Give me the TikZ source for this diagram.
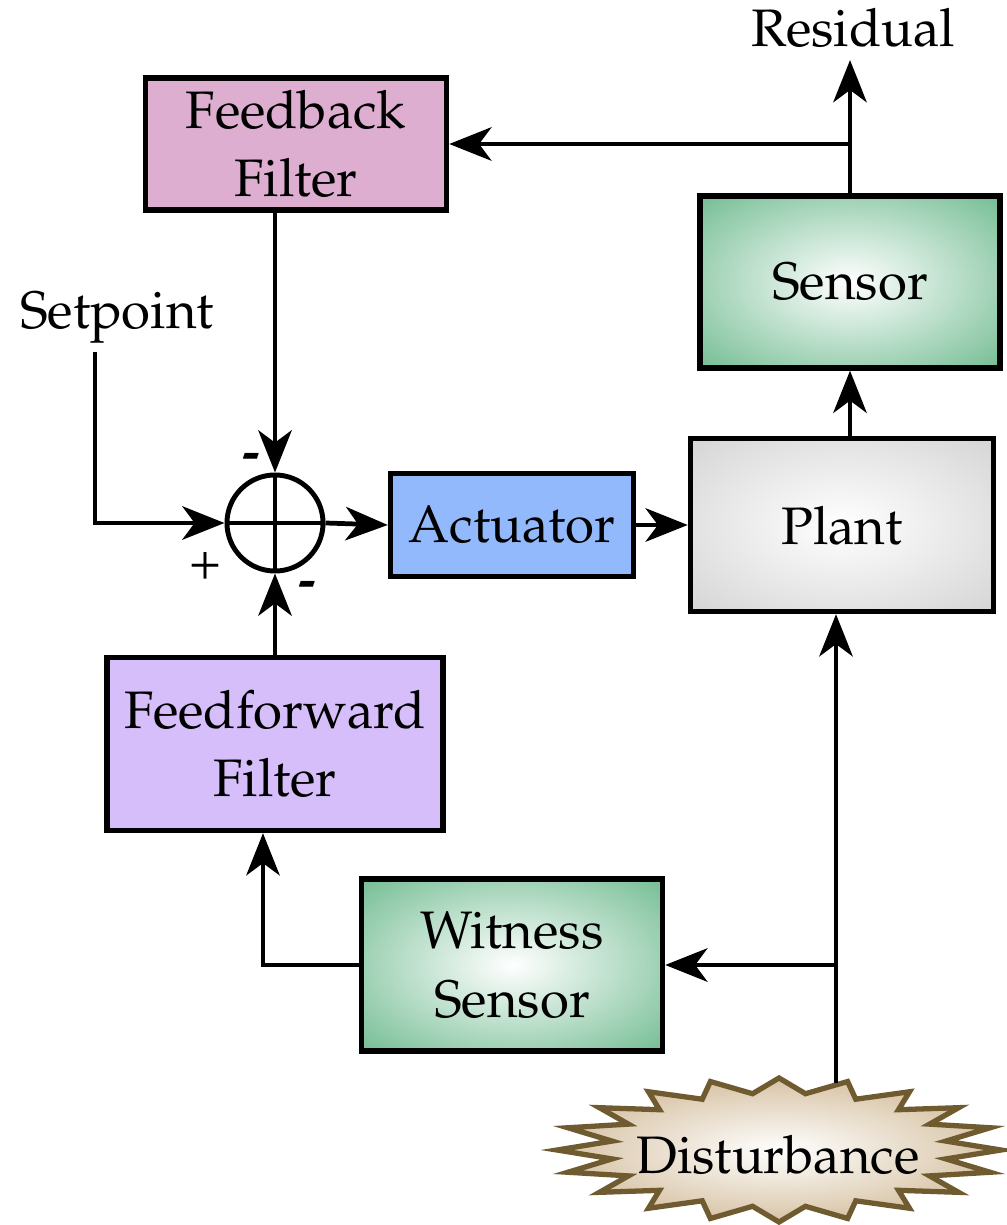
\documentclass[tikz,border=0pt]{standalone}
\usepackage[T1]{fontenc}
\usepackage{mathpazo}
\usepackage{xcolor}
\usepackage{tikz}
\usetikzlibrary{arrows.meta,positioning,shapes.geometric,calc}

\definecolor{fbpink}{RGB}{221,174,208}
\definecolor{ffpurple}{RGB}{214,190,250}
\definecolor{actblue}{RGB}{145,185,251}
\definecolor{sensgreen}{RGB}{34,150,84}
\definecolor{plantgray}{RGB}{176,176,176}
\definecolor{disttan}{RGB}{192,160,112}
\definecolor{distbrown}{RGB}{112,90,48}

% soft radial glows: white centre, full colour only in the corners
\pgfdeclareradialshading{greenglow}{\pgfpoint{0bp}{0bp}}{color(0bp)=(white); color(48bp)=(sensgreen!85!white); color(64bp)=(sensgreen); color(100bp)=(sensgreen)}
\pgfdeclareradialshading{grayglow}{\pgfpoint{0bp}{0bp}}{color(0bp)=(white); color(50bp)=(plantgray!75!white); color(68bp)=(plantgray); color(100bp)=(plantgray)}
\pgfdeclareradialshading{tanglow}{\pgfpoint{0bp}{0bp}}{color(0bp)=(white); color(30bp)=(disttan!75!white); color(45bp)=(disttan); color(100bp)=(disttan)}

\begin{document}
\begin{tikzpicture}[x=0.01cm,y=-0.01cm,>={Stealth[length=12pt,width=9.5pt,inset=3.5pt]},
  every node/.style={font=\fontsize{15}{19.5}\selectfont,align=center},
  block/.style={draw,line width=1.5pt,minimum width=3cm,minimum height=1.72cm},
  link/.style={->,line width=1.35pt},
  burst/.style={draw=distbrown,line width=1.5pt,line join=miter,shading=tanglow}]
\useasboundingbox (0,0) rectangle (1007,1225);
\node (fb) [block,fill=fbpink,minimum width=3.01cm,minimum height=1.32cm] at (296,144) {Feedback\\Filter};
\node (sens) [block,shading=greenglow] at (850,282) {Sensor};
\node (plant) [block,shading=grayglow,minimum width=3.03cm,minimum height=1.73cm] at (842,525) {Plant};
\node (act) [block,fill=actblue,minimum width=2.43cm,minimum height=1.03cm] at (512,525) {Actuator};
\node (sum) [circle,draw,line width=1.4pt,minimum size=0.96cm] at (275,523) {};
\node (ff) [block,fill=ffpurple,minimum width=3.36cm,minimum height=1.73cm] at (275,744) {Feedforward\\Filter};
\node (wit) [block,shading=greenglow,minimum width=3.01cm] at (512,965) {Witness\\Sensor};
% the disturbance burst: 20 spikes between two ellipses
\draw[burst] plot[samples at={0,...,39},variable=\k]
  ({779+(mod(\k,2)==0 ? 222 : 169)*cos(\k*9)},{1150-(mod(\k,2)==0 ? 72 : 57)*sin(\k*9)}) -- cycle;
\node (dist) at (778,1155) {Disturbance};
\node (res) at (853,28) {Residual};
\node (sp) at (117,318) {Setpoint};
\draw[line width=1.4pt] (sum.north) -- (sum.south) (sum.west) -- (sum.east);
% signs at the summing junction
\node at (251,462) {\textbf{-}};
\node at (205,566) {+};
\node at (307,590) {\textbf{-}};
% forward path
\draw[link] ($(sp.south)+(-22,-4)$) |- (sum.west);
\draw[link] (sum.east) -- (act.west);
\draw[link] (act.east) -- (plant.west);
\draw[link] (plant.north -| sens.south) -- (sens.south);
\draw[link] (sens.north) -- (sens.north |- res.south);
\draw[link] (sens.north |- fb.east) -- (fb.east);
\draw[link] (fb.south -| sum.north) -- (sum.north);
% disturbance and feedforward path
\coordinate (dtop) at (836,1083);
\coordinate (tap) at (836,965);
\draw[link] (dtop) -- (plant.south -| dtop);
\draw[link] (tap) -- (wit.east);
\draw[link] (wit.west) -| ([xshift=-0.12cm]ff.south);
\draw[link] (ff.north) -- (sum.south);
\end{tikzpicture}
\end{document}
